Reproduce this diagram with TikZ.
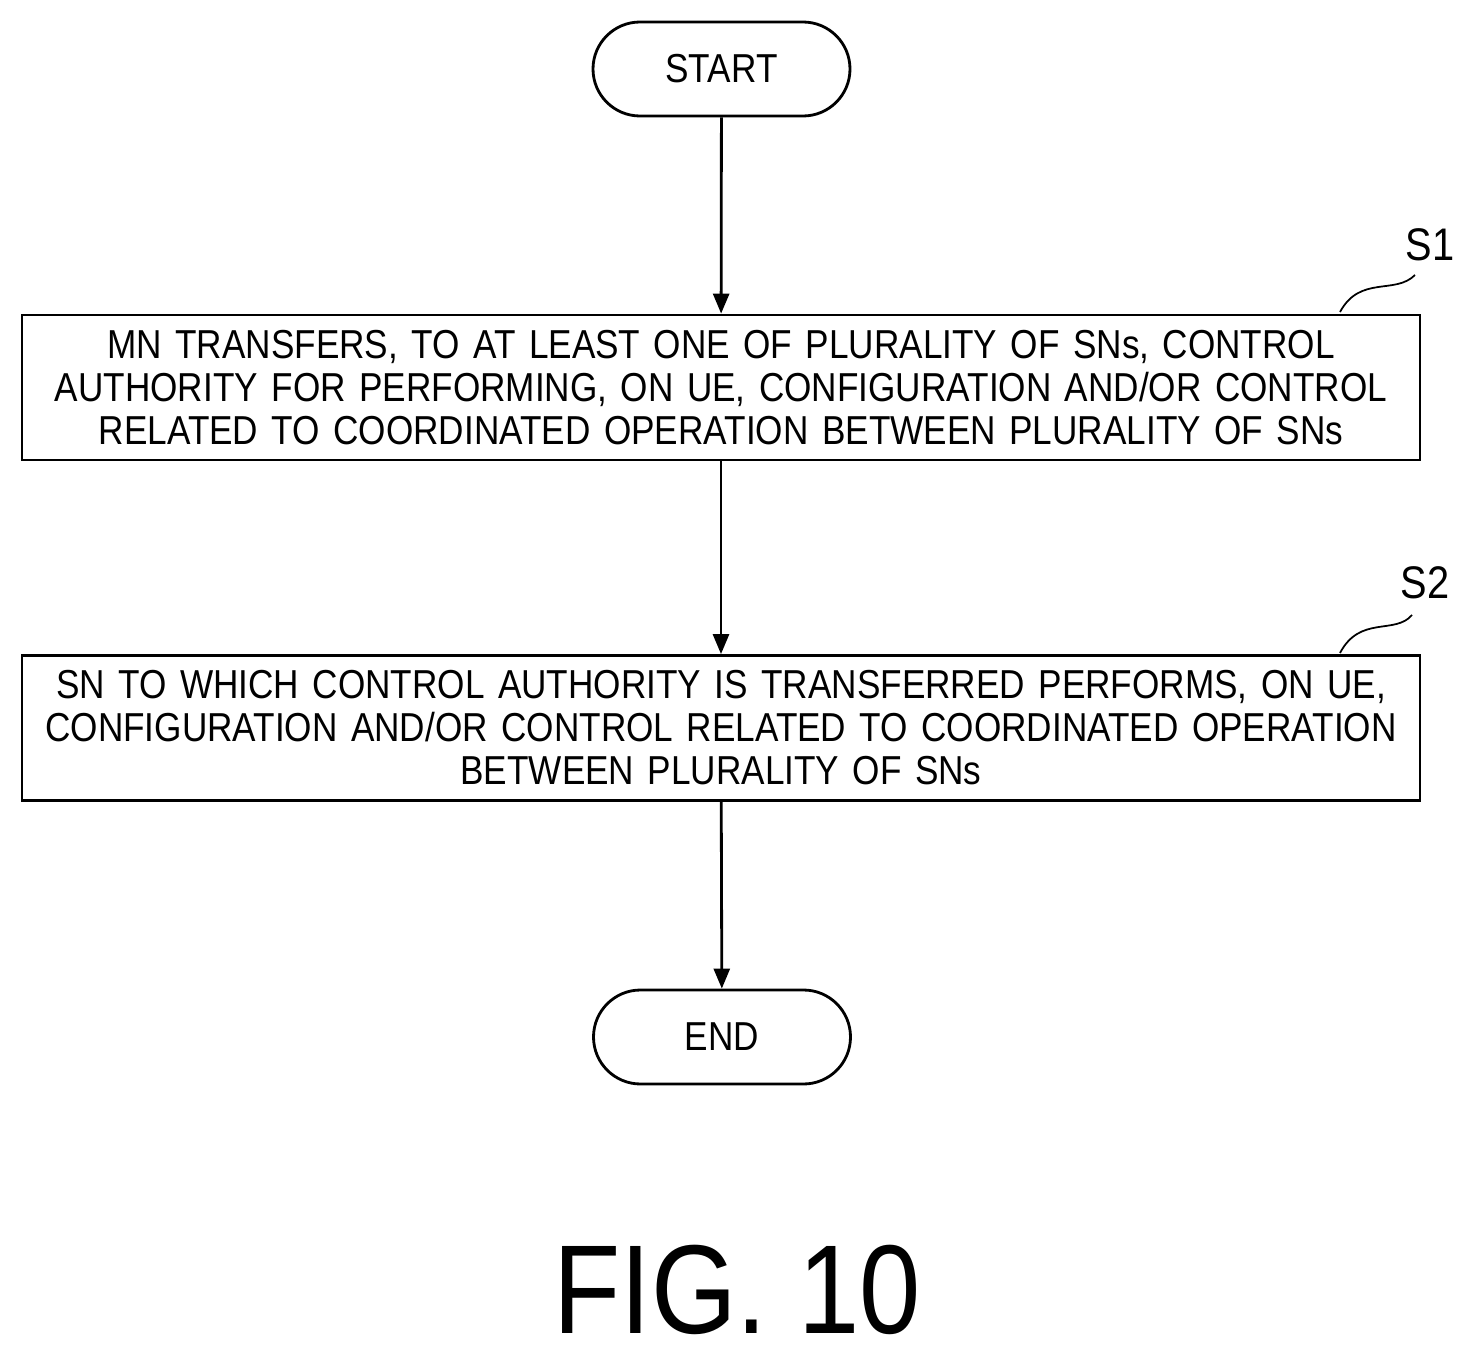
\documentclass[tikz,border=0pt]{standalone}
\usepackage{fontspec}
\setmainfont{Liberation Sans}
\newfontfamily\narrowsf[FakeStretch=0.87]{Liberation Sans}
\usetikzlibrary{arrows.meta,positioning}
\tikzset{
  term/.style={draw,line width=1.6pt,rounded corners=0.94cm,minimum width=5.14cm,minimum height=1.88cm,font=\narrowsf\fontsize{23}{24.5}\selectfont},
  proc/.style={draw,line width=1.6pt,inner xsep=0pt,text width=27.96cm,minimum height=2.9cm,align=center,font=\narrowsf\fontsize{23}{24.5}\selectfont},
  flow/.style={line width=1.6pt,-{Triangle[length=0.4cm,width=0.32cm]}},
  tag/.style={font=\narrowsf\fontsize{26}{28}\selectfont}
}
\begin{document}
\begin{tikzpicture}
\useasboundingbox (0,0) rectangle (29.46,-27.28);
\node[term] (start) at (14.43,-1.38) {START};
\node[proc] (s1) at (14.42,-7.75) {MN TRANSFERS, TO AT LEAST ONE OF PLURALITY OF SNs, CONTROL\\AUTHORITY FOR PERFORMING, ON UE, CONFIGURATION AND/OR CONTROL\\RELATED TO COORDINATED OPERATION BETWEEN PLURALITY OF SNs};
\node[proc] (s2) at (14.42,-14.56) {SN TO WHICH CONTROL AUTHORITY IS TRANSFERRED PERFORMS, ON UE,\\CONFIGURATION AND/OR CONTROL RELATED TO COORDINATED OPERATION\\BETWEEN PLURALITY OF SNs};
\node[term] (end) at (14.44,-20.74) {END};
\draw[flow] (start) -- (s1);
\draw[flow] (s1) -- (s2);
\draw[flow] (s2) -- (end);
% step labels
\node[tag] (l1) at (28.6,-4.9) {S1};
\node[tag] (l2) at (28.5,-11.66) {S2};
\draw[line width=1pt] (26.8,-6.24) .. controls (27.2,-5.5) and (27.9,-5.9) .. (28.3,-5.5);
\draw[line width=1pt] (26.8,-13.06) .. controls (27.2,-12.3) and (27.9,-12.7) .. (28.24,-12.3);
\node[font=\narrowsf\fontsize{72}{80}\selectfont] (fig) at (14.74,-25.8) {FIG. 10};
\end{tikzpicture}
\end{document}
